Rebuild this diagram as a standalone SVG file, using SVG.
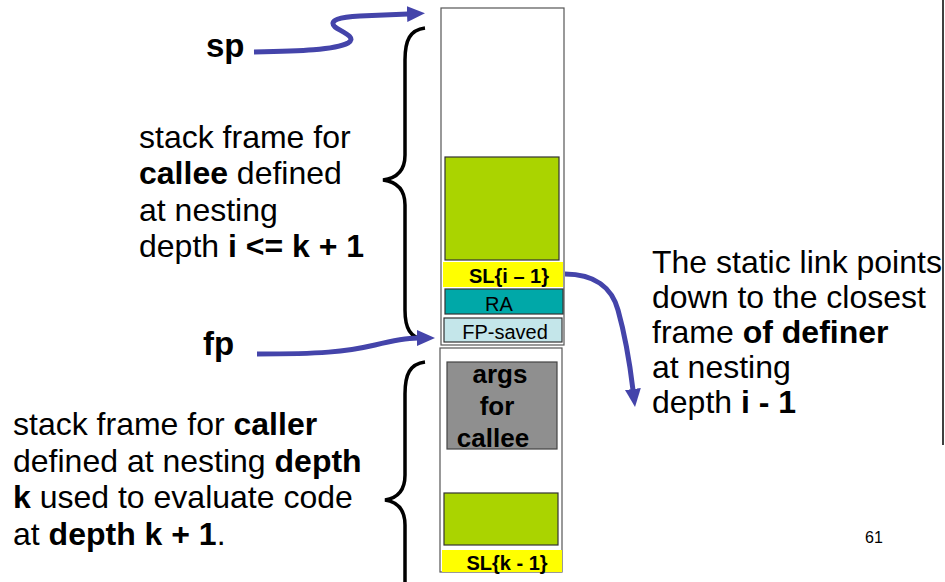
<svg xmlns="http://www.w3.org/2000/svg" width="945" height="582" viewBox="0 0 945 582">
<style>
text{font-family:"Liberation Sans",Arial,sans-serif;fill:#000}
.big{font-size:32px}
.b{font-weight:bold}
.cell{font-size:20px}
.arrow{fill:none;stroke:#4444AA;stroke-width:5}
.brace{fill:none;stroke:#000;stroke-width:3.5}
</style>
<defs>
<marker id="ah" markerUnits="userSpaceOnUse" markerWidth="18" markerHeight="16" viewBox="0 0 18 16" refX="1" refY="8" orient="auto">
<path d="M0,0 L18,8 L0,16 z" fill="#4444AA"/>
</marker>
</defs>
<rect width="945" height="582" fill="#fff"/>
<line x1="943" y1="0" x2="943" y2="445" stroke="#000" stroke-width="1.5"/>
<g id="upper-frame">
<rect x="441" y="8" width="123" height="337" fill="#fff" stroke="#555" stroke-width="1.2"/>
<rect x="445" y="157" width="114" height="103" fill="#AAD400" stroke="#333" stroke-width="1.2"/>
</g>
<g id="sl-i">
<rect x="443" y="262" width="120" height="25" fill="#FFFF00"/>
<text class="cell b" x="509" y="283" text-anchor="middle">SL{i – 1}</text>
</g>
<g id="ra">
<rect x="445" y="289" width="118" height="25" fill="#00A8A8" stroke="#333" stroke-width="1.2"/>
<text class="cell" x="499" y="311" text-anchor="middle">RA</text>
</g>
<g id="fp-saved">
<rect x="444" y="318" width="118" height="24" fill="#C4E6EA" stroke="#333" stroke-width="1.2"/>
<text class="cell" x="505" y="339" text-anchor="middle">FP-saved</text>
</g>
<g id="lower-frame">
<rect x="440" y="348" width="122" height="224" fill="#fff" stroke="#555" stroke-width="1.2"/>
<rect x="444" y="493" width="114" height="52" fill="#AAD400" stroke="#333" stroke-width="1.2"/>
</g>
<g id="args">
<rect x="447" y="362" width="110" height="87" fill="#8F8F8F" stroke="#444" stroke-width="1.2"/>
<text class="b" font-size="26" x="500" y="383" text-anchor="middle">args</text>
<text class="b" font-size="26" x="497" y="415" text-anchor="middle">for</text>
<text class="b" font-size="26" x="493" y="447" text-anchor="middle">callee</text>
</g>
<g id="sl-k">
<rect x="442" y="550" width="120" height="22" fill="#FFFF00"/>
<text class="cell b" x="507" y="570" text-anchor="middle">SL{k - 1}</text>
</g>
<g id="sp-label"><text class="b" font-size="33" x="206" y="57">sp</text></g>
<g id="fp-label"><text class="b" font-size="33" x="203" y="355">fp</text></g>
<g id="callee-text">
<text class="big" x="139" y="148">stack frame for</text>
<text class="big" x="139" y="184"><tspan class="b">callee</tspan> defined</text>
<text class="big" x="139" y="221">at nesting</text>
<text class="big" x="139" y="257">depth <tspan class="b">i &lt;= k + 1</tspan></text>
</g>
<g id="caller-text">
<text class="big" x="13" y="435">stack frame for <tspan class="b">caller</tspan></text>
<text class="big" x="13" y="472">defined at nesting <tspan class="b">depth</tspan></text>
<text class="big" x="13" y="508"><tspan class="b">k</tspan> used to evaluate code</text>
<text class="big" x="13" y="545">at <tspan class="b">depth k + 1</tspan>.</text>
</g>
<g id="sl-note">
<text class="big" x="652" y="273">The static link points</text>
<text class="big" x="652" y="308">down to the closest</text>
<text class="big" x="652" y="343">frame <tspan class="b">of definer</tspan></text>
<text class="big" x="652" y="378">at nesting</text>
<text class="big" x="652" y="413">depth <tspan class="b">i - 1</tspan></text>
</g>
<g id="page-num"><text font-size="16" x="865" y="543">61</text></g>
<g id="connectors">
<path class="brace" d="M425,28 C410,30 405,40 405,60 L405,155 C405,170 398,178 383,180 C398,182 405,190 405,205 L405,310 C405,328 410,338 425,340"/>
<path class="brace" d="M425,362 C410,364 405,374 405,394 L405,475 C405,490 398,498 385,500 C398,502 405,510 405,525 L405,590"/>
<path class="arrow" marker-end="url(#ah)" d="M254,52 C300,51 335,50 348,43 C358,37 340,31 335,27 C328,20 340,17 360,16 L408,14"/>
<path class="arrow" marker-end="url(#ah)" d="M257,354 C320,354 345,352 375,345 C395,340 405,338 418,338"/>
<path class="arrow" marker-end="url(#ah)" d="M565,274 C595,274 612,288 618,310 C625,335 630,365 633,390"/>
</g>
</svg>
